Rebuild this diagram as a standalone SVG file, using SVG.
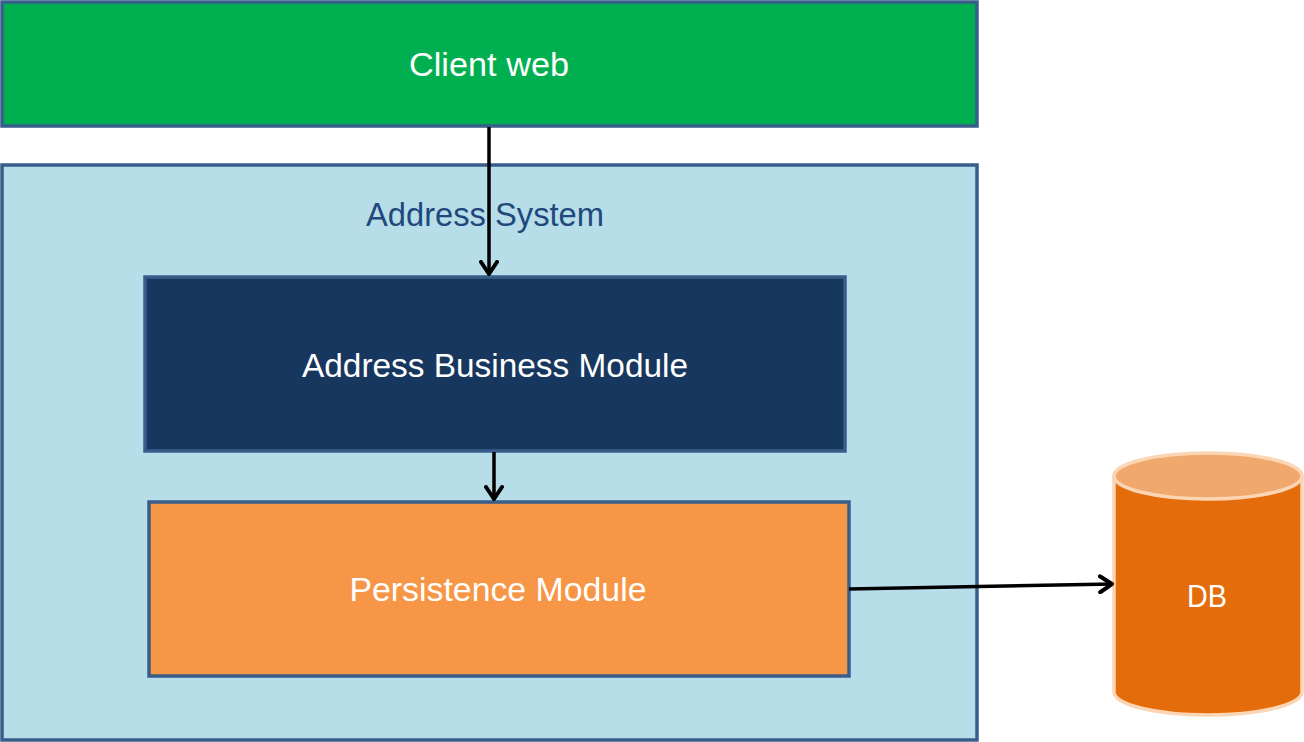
<svg xmlns="http://www.w3.org/2000/svg" width="1304" height="742" viewBox="0 0 1304 742">
<style>
.box{stroke:#385d8a;stroke-width:3.5}
.lbl{font-family:"Liberation Sans",Arial,sans-serif;font-size:33px;fill:#ffffff;text-anchor:middle}
.conn{stroke:#000;stroke-width:3.5;fill:none;marker-end:url(#arr)}
</style>
<defs>
<marker id="arr" viewBox="0 0 16 20" refX="15" refY="10" markerWidth="16" markerHeight="20" markerUnits="userSpaceOnUse" orient="auto">
<path d="M2,2 L14,10 L2,18" fill="none" stroke="#000" stroke-width="4" stroke-linecap="round" stroke-linejoin="round"/>
</marker>
</defs>
<rect width="1304" height="742" fill="#ffffff"/>
<g id="client-web">
<rect class="box" x="2" y="2" width="975" height="124" fill="#00b050"/>
<text class="lbl" x="489" y="76" textLength="160" lengthAdjust="spacingAndGlyphs">Client web</text>
</g>
<g id="address-system">
<rect class="box" x="2" y="165" width="975" height="575" fill="#b7dde8"/>
<text class="lbl" x="485" y="226" style="fill:#1f497d" textLength="238" lengthAdjust="spacingAndGlyphs">Address System</text>
</g>
<g id="address-business-module">
<rect class="box" x="145" y="277" width="700" height="174" fill="#17375e"/>
<text class="lbl" x="495" y="377" textLength="386" lengthAdjust="spacingAndGlyphs">Address Business Module</text>
</g>
<g id="persistence-module">
<rect class="box" x="149" y="502" width="700" height="174" fill="#f79646"/>
<text class="lbl" x="498" y="601" textLength="297" lengthAdjust="spacingAndGlyphs">Persistence Module</text>
</g>
<g id="db">
<path d="M1114,476 L1114,692 A94,23 0 0 0 1302,692 L1302,476 Z" fill="#e46c0a" stroke="#fcd5b5" stroke-width="3.5"/>
<ellipse cx="1208" cy="476" rx="94" ry="23" fill="#f0a86c" stroke="#fcd5b5" stroke-width="3.5"/>
<text class="lbl" x="1207" y="607" style="font-size:32px" textLength="40" lengthAdjust="spacingAndGlyphs">DB</text>
</g>
<g id="connectors">
<line class="conn" x1="489" y1="127" x2="489" y2="275"/>
<line class="conn" x1="494" y1="452" x2="494" y2="500"/>
<line class="conn" x1="849" y1="589" x2="1113" y2="584"/>
</g>
</svg>
